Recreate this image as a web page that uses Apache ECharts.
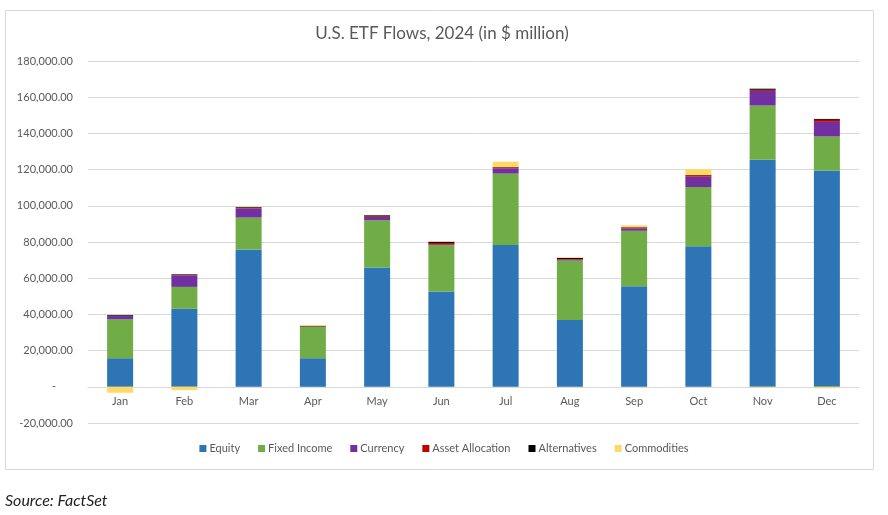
<!DOCTYPE html>
<html>
<head>
<meta charset="utf-8">
<script src="https://cdn.jsdelivr.net/npm/echarts@6/dist/echarts.min.js"></script>
<style>
html,body{margin:0;padding:0;background:#fff;}
#chart{width:888px;height:515px;}
</style>
</head>
<body>
<div id="chart"></div>
<script>
const categories = ['Jan','Feb','Mar','Apr','May','Jun','Jul','Aug','Sep','Oct','Nov','Dec'];
const equity          = [15800, 43100, 75900, 15800, 65900, 52600, 78300, 36900, 55600, 77600, 125400, 119500];
const fixedIncome     = [21500, 12100, 17600, 17300, 26100, 25600, 39500, 32800, 30600, 32800, 30000, 18800];
const currency        = [1800, 6400, 5100, 200, 1800, 300, 2900, 500, 1300, 5700, 8100, 8100];
const assetAllocation = [200, 300, 300, 100, 400, 900, 500, 400, 500, 800, 600, 1100];
const alternatives    = [400, 300, 400, 300, 600, 700, 200, 600, 200, 200, 600, 500];
const commodities     = [-3300, -1800, 300, 500, 200, 100, 3000, 300, 1000, 3100, -300, -800];
const yTicks = { min: -20000, max: 180000, interval: 20000 };

const seriesDefs = [
  ['Equity', equity, '#2E75B6'],
  ['Fixed Income', fixedIncome, '#70AD47'],
  ['Currency', currency, '#7030A0'],
  ['Asset Allocation', assetAllocation, '#C00000'],
  ['Alternatives', alternatives, '#000000'],
  ['Commodities', commodities, '#FFD966']
];

const chart = echarts.init(document.getElementById('chart'), null, {renderer: 'canvas'});
const fmt = v => {
  if (v === 0) return '-      ';
  const s = Math.abs(v).toLocaleString('en-US', {minimumFractionDigits: 2, maximumFractionDigits: 2});
  return (v < 0 ? '-' : '') + s;
};
chart.setOption({
  backgroundColor: '#fff',
  animation: false,
  title: {
    text: 'U.S. ETF Flows, 2024 (in $ million)',
    left: 437, top: 20, textAlign: 'center',
    textStyle: {fontFamily: 'Lato', fontSize: 17, fontWeight: 'normal', color: '#595959'}
  },
  graphic: [
    {type: 'rect', shape: {x: 5.5, y: 10.5, width: 868, height: 459}, style: {fill: 'none', stroke: '#D9D9D9', lineWidth: 1}, z: -1},
    {type: 'text', left: 5, top: 493, style: {text: 'Source: FactSet', font: 'italic 16px Lato', fill: '#222'}}
  ],
  legend: {
    left: 'center', top: 438,
    itemWidth: 7, itemHeight: 7, itemGap: 18,
    icon: 'rect',
    textStyle: {fontFamily: 'Lato', fontSize: 11, color: '#595959', padding: [0,0,0,-2]},
    data: seriesDefs.map(d => d[0])
  },
  grid: {left: 88, right: 29, top: 61, bottom: 92, containLabel: false},
  xAxis: {
    type: 'category', data: categories,
    axisLine: {onZero: true, lineStyle: {color: '#D9D9D9'}},
    axisTick: {show: false},
    axisLabel: {fontFamily: 'Lato', fontSize: 11, color: '#595959', margin: -27}
  },
  yAxis: {
    type: 'value', min: yTicks.min, max: yTicks.max, interval: yTicks.interval,
    axisLine: {show: false}, axisTick: {show: false},
    splitLine: {lineStyle: {color: '#D9D9D9', width: 1}},
    axisLabel: {fontFamily: 'Lato', fontSize: 11, color: '#595959', margin: 15, formatter: fmt}
  },
  series: seriesDefs.map(d => ({
    name: d[0], type: 'bar', stack: 'flows', data: d[1],
    barWidth: 26,
    itemStyle: {color: d[2]}
  }))
});
</script>
</body>
</html>
